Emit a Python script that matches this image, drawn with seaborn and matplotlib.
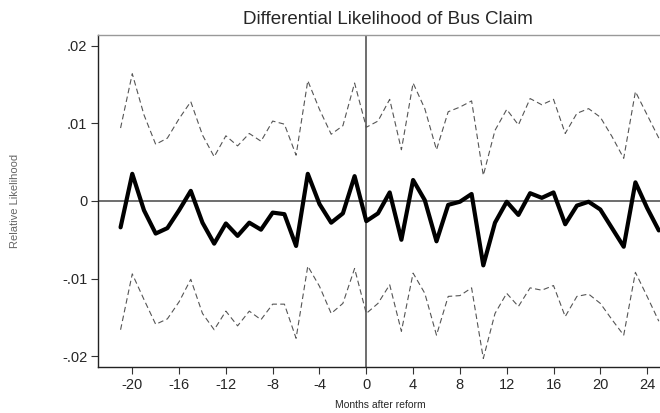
import matplotlib
matplotlib.use("Agg")
import matplotlib.pyplot as plt
import seaborn as sns
import pandas as pd

months = list(range(-21, 26))

coef = [-0.0034, 0.0035, -0.0012, -0.0042, -0.0035, -0.0012, 0.0013, -0.0028,
        -0.0055, -0.0029, -0.0045, -0.0028, -0.0037, -0.0015, -0.0017, -0.0058,
        0.0035, -0.0004, -0.0028, -0.0016, 0.0032, -0.0026, -0.0016, 0.0011,
        -0.0050, 0.0027, 0.0001, -0.0052, -0.0005, -0.0001, 0.0009, -0.0083,
        -0.0028, -0.0001, -0.0018, 0.0010, 0.0004, 0.0011, -0.0030, -0.0006,
        -0.0001, -0.0011, -0.0035, -0.0059, 0.0024, -0.0009, -0.0038]

upper = [0.0094, 0.0164, 0.0111, 0.0073, 0.0081, 0.0106, 0.0128, 0.0085,
         0.0057, 0.0084, 0.0071, 0.0087, 0.0077, 0.0103, 0.0099, 0.0059,
         0.0155, 0.0118, 0.0086, 0.0097, 0.0152, 0.0095, 0.0103, 0.0131,
         0.0066, 0.0152, 0.0119, 0.0066, 0.0115, 0.0121, 0.0129, 0.0033,
         0.0091, 0.0118, 0.0098, 0.0132, 0.0124, 0.0131, 0.0087, 0.0113,
         0.0119, 0.0108, 0.0083, 0.0055, 0.0141, 0.0111, 0.0081]

lower = [-0.0166, -0.0094, -0.0127, -0.0159, -0.0152, -0.0130, -0.0101, -0.0145,
         -0.0166, -0.0142, -0.0161, -0.0142, -0.0153, -0.0133, -0.0133, -0.0177,
         -0.0084, -0.0110, -0.0145, -0.0132, -0.0087, -0.0145, -0.0132, -0.0108,
         -0.0168, -0.0093, -0.0119, -0.0173, -0.0123, -0.0122, -0.0112, -0.0203,
         -0.0145, -0.0119, -0.0136, -0.0112, -0.0115, -0.0109, -0.0149, -0.0123,
         -0.0120, -0.0132, -0.0153, -0.0173, -0.0092, -0.0123, -0.0155]

xticks = list(range(-20, 25, 4))
yticks = [-0.02, -0.01, 0, 0.01, 0.02]
ytick_labels = ["-.02", "-.01", "0", ".01", ".02"]

df = pd.DataFrame({"month": months, "coef": coef, "upper": upper, "lower": lower})

sns.set_style("white")
plt.rcParams["font.family"] = ["Liberation Sans", "DejaVu Sans"]

fig = plt.figure(figsize=(6.6, 4.13), dpi=100)
ax = fig.add_axes([0.149, 0.1114, 0.8758, 0.804])

ax.axhline(0, color="#555555", lw=1.2, zorder=1)
ax.axvline(0, color="#555555", lw=1.2, zorder=1)

for col in ["upper", "lower"]:
    sns.lineplot(data=df, x="month", y=col, ax=ax, color="#555555", lw=0.8,
                 dashes=False, linestyle=(0, (5, 3)), zorder=2)
sns.lineplot(data=df, x="month", y="coef", ax=ax, color="black", lw=3.0, zorder=3)

ax.set_xlim(-22.9, 26.5)
ax.set_ylim(-0.0214, 0.0214)
ax.set_xticks(xticks)
ax.set_xticklabels([str(t) for t in xticks])
ax.set_yticks(yticks)
ax.set_yticklabels(ytick_labels)
ax.tick_params(axis="both", labelsize=10.5, length=5, width=0.8, color="#333333",
               direction="out", left=True, bottom=True, pad=3)
ax.set_xlabel("")
ax.set_ylabel("")

for side in ["left", "bottom"]:
    ax.spines[side].set_color("#222222")
    ax.spines[side].set_linewidth(1.0)
ax.spines["top"].set_color("#999999")
ax.spines["top"].set_linewidth(1.0)
ax.spines["right"].set_visible(False)

fig.text(388 / 660, 1 - 20 / 413, "Differential Likelihood of Bus Claim",
         ha="center", va="center", fontsize=13.5)
fig.text(380 / 660, 1 - 405 / 413, "Months after reform",
         ha="center", va="center", fontsize=7.5)

# y label, faint and pushed to the far left like the source
fig.text(15 / 660, 1 - 201 / 413, "Relative Likelihood", rotation=90,
         ha="center", va="center", fontsize=8, color="#666666")

fig.savefig("out.png", dpi=100)
